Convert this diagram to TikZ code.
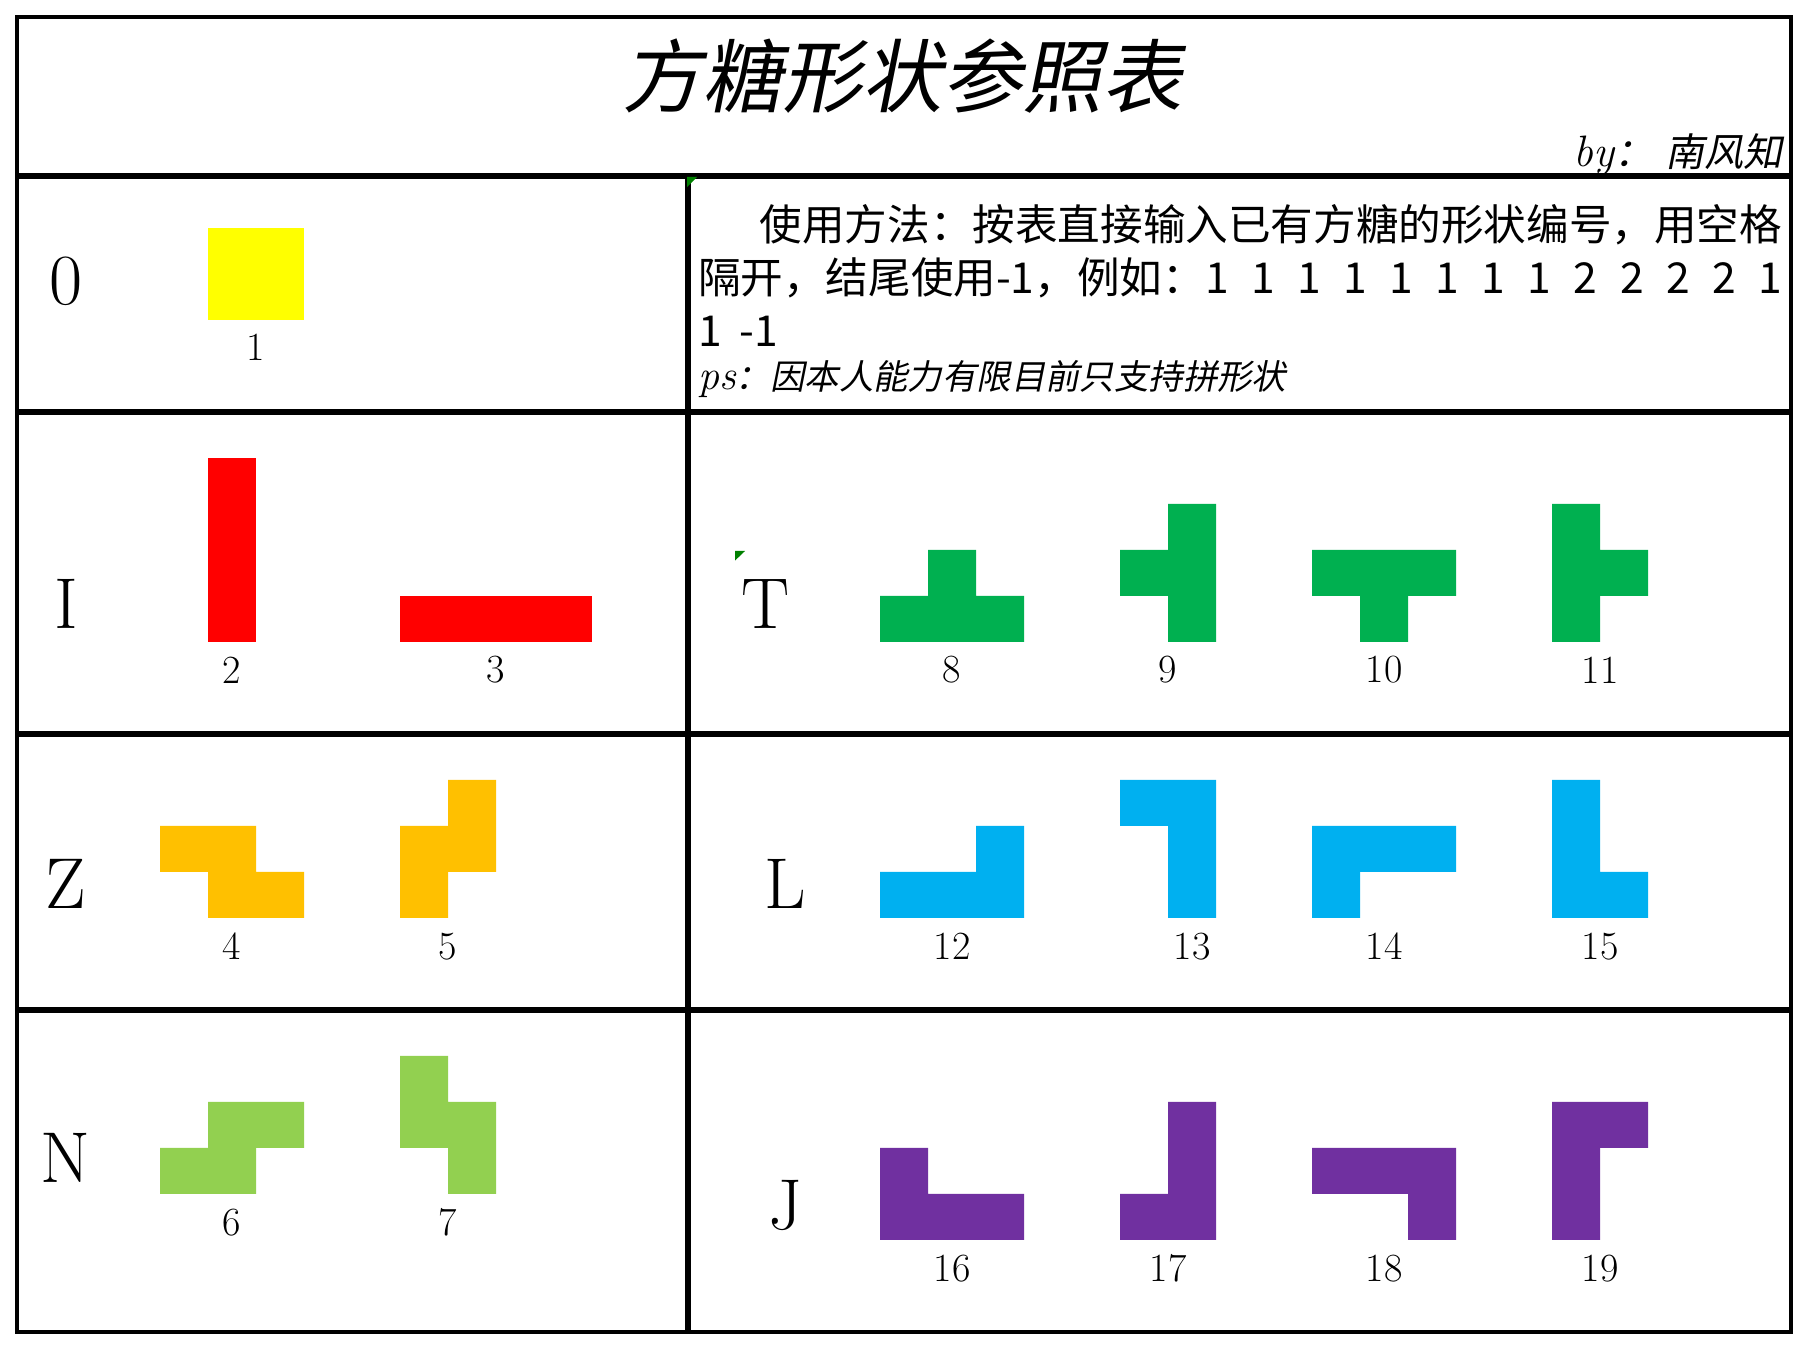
\documentclass[tikz,border=0pt]{standalone}
\usepackage{fontspec}
\usepackage{tikz}
\newfontfamily\cjk{Noto Sans CJK SC}
\newfontfamily\cjkit[FakeSlant=0.2]{Noto Sans CJK SC}
\definecolor{oyellow}{RGB}{255,255,0}
\definecolor{ired}{RGB}{255,0,0}
\definecolor{zorange}{RGB}{255,192,0}
\definecolor{nlime}{RGB}{146,208,80}
\definecolor{tgreen}{RGB}{0,176,80}
\definecolor{lblue}{RGB}{0,176,240}
\definecolor{jpurple}{RGB}{112,48,160}
\definecolor{errgreen}{RGB}{0,128,0}

\begin{document}
\begin{tikzpicture}[x=24pt,y=23pt,
  frame/.style={line width=2.2pt},
  rule/.style={line width=3pt},
  letter/.style={font=\fontsize{36}{40}\selectfont},
  num/.style={font=\fontsize{20}{24}\selectfont},
  note/.style={font=\cjk\fontsize{21.3}{24}\selectfont,anchor=base west,inner sep=0pt},
  errtri/.style={fill=errgreen}]
\useasboundingbox (-0.3333,-0.4348) rectangle (37.3333,28.9565);
% pieces
\fill[oyellow] (4,22) rectangle (6,24);
\fill[ired] (4,15) rectangle (5,19);
\fill[ired] (8,15) rectangle (12,16);
\fill[zorange] (3,10) rectangle (5,11) (4,9) rectangle (6,10);
\fill[zorange] (9,10) rectangle (10,12) (8,9) rectangle (9,11);
\fill[nlime] (4,4) rectangle (6,5) (3,3) rectangle (5,4);
\fill[nlime] (8,4) rectangle (9,6) (9,3) rectangle (10,5);
\fill[tgreen] (18,15) rectangle (21,16) (19,16) rectangle (20,17);
\fill[tgreen] (24,15) rectangle (25,18) (23,16) rectangle (24,17);
\fill[tgreen] (27,16) rectangle (30,17) (28,15) rectangle (29,16);
\fill[tgreen] (32,15) rectangle (33,18) (33,16) rectangle (34,17);
\fill[lblue] (18,9) rectangle (21,10) (20,10) rectangle (21,11);
\fill[lblue] (23,11) rectangle (24,12) (24,9) rectangle (25,12);
\fill[lblue] (27,10) rectangle (30,11) (27,9) rectangle (28,10);
\fill[lblue] (32,9) rectangle (33,12) (33,9) rectangle (34,10);
\fill[jpurple] (18,2) rectangle (21,3) (18,3) rectangle (19,4);
\fill[jpurple] (24,2) rectangle (25,5) (23,2) rectangle (24,3);
\fill[jpurple] (27,3) rectangle (30,4) (29,2) rectangle (30,3);
\fill[jpurple] (32,2) rectangle (33,5) (33,4) rectangle (34,5);
% table rules
\draw[frame] (0.02,0) rectangle (36.98,28.59);
\draw[rule] (0.02,25.13) -- (36.98,25.13);
\draw[rule] (0.02,20) -- (36.98,20);
\draw[rule] (0.02,13) -- (36.98,13);
\draw[rule] (0.02,7) -- (36.98,7);
\draw[rule] (14,0) -- (14,25.13);
\fill[errtri] (13.98,25.11) -- (14.19,25.11) -- (13.98,24.89) -- cycle;
\fill[errtri] (14.98,16.98) -- (15.19,16.98) -- (14.98,16.77) -- cycle;
% title and notes
\node[font=\cjkit\fontsize{40}{44}\selectfont] (title) at (18.47,27.3) {方糖形状参照表};
\node[anchor=base east,inner sep=0pt] (byline) at (36.8,25.33) {{\fontsize{22}{24}\selectfont\itshape by}{\cjkit\fontsize{19.5}{22}\selectfont ：\hspace{0.3em}南风知}};
\node[note,anchor=base east] (use1) at (36.8,23.73) {使用方法：按表直接输入已有方糖的形状编号，用空格};
\node[note] (use2) at (14.2,22.58) {\makebox[542pt][s]{隔开，结尾使用-1，例如：1 1 1 1 1 1 1 1 2 2 2 2 1}};
\node[note] (use3) at (14.2,21.42) {1\hspace{9pt}-1};
\node[note,font=\fontsize{17.2}{20}\selectfont] (ps) at (14.2,20.49) {{\fontsize{21}{22}\selectfont\itshape ps}{\cjkit ：因本人能力有限目前只支持拼形状}};
% shape letters
\node[letter] (shO) at (1.04,22.84) {0};
\node[letter] (shI) at (1.04,15.82) {I};
\node[letter] (shZ) at (1.04,9.75) {Z};
\node[letter] (shN) at (1.04,3.79) {N};
\node[letter] (shT) at (15.62,15.82) {T};
\node[letter] (shL) at (16.03,9.75) {L};
\node[letter] (shJ) at (16.03,2.74) {J};
% piece numbers
\node[num] (n1) at (5,21.4) {1};
\node[num] (n2) at (4.5,14.39) {2};
\node[num] (n3) at (10,14.39) {3};
\node[num] (n4) at (4.5,8.38) {4};
\node[num] (n5) at (9,8.38) {5};
\node[num] (n6) at (4.5,2.38) {6};
\node[num] (n7) at (9,2.38) {7};
\node[num] (n8) at (19.5,14.39) {8};
\node[num] (n9) at (24,14.39) {9};
\node[num] (n10) at (28.5,14.39) {10};
\node[num] (n11) at (33,14.39) {11};
\node[num] (n12) at (19.5,8.38) {12};
\node[num] (n13) at (24.5,8.38) {13};
\node[num] (n14) at (28.5,8.38) {14};
\node[num] (n15) at (33,8.38) {15};
\node[num] (n16) at (19.5,1.38) {16};
\node[num] (n17) at (24,1.38) {17};
\node[num] (n18) at (28.5,1.38) {18};
\node[num] (n19) at (33,1.38) {19};
\end{tikzpicture}
\end{document}
